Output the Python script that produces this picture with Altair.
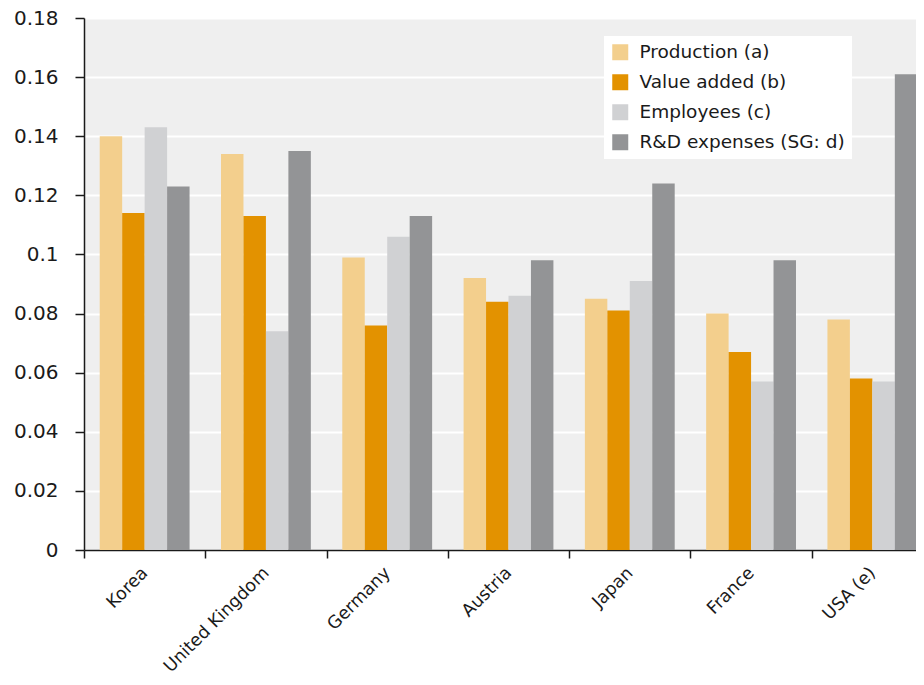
import altair as alt
import pandas as pd

countries = ["Korea", "United Kingdom", "Germany", "Austria", "Japan", "France", "USA (e)"]
series = ["Production (a)", "Value added (b)", "Employees (c)", "R&D expenses (SG: d)"]
colors = ["#f3cf8d", "#e39200", "#d0d1d3", "#939496"]

production = [0.140, 0.134, 0.099, 0.092, 0.085, 0.080, 0.078]
value_added = [0.114, 0.113, 0.076, 0.084, 0.081, 0.067, 0.058]
employees = [0.143, 0.074, 0.106, 0.086, 0.091, 0.057, 0.057]
rnd = [0.123, 0.135, 0.113, 0.098, 0.124, 0.098, 0.161]

y_ticks = [0, 0.02, 0.04, 0.06, 0.08, 0.1, 0.12, 0.14, 0.16, 0.18]

rows = []
for s, vals in zip(series, [production, value_added, employees, rnd]):
    for c, v in zip(countries, vals):
        rows.append({"country": c, "series": s, "value": v})
df = pd.DataFrame(rows)

FONT = "DejaVu Sans"

chart = alt.Chart(df).mark_bar().encode(
    x=alt.X("country:N", sort=countries, title=None,
            scale=alt.Scale(paddingInner=0, paddingOuter=0),
            axis=alt.Axis(tickBand="extent", labelAngle=-45, labelAlign="right",
                          labelBaseline="middle", labelFontSize=17.5, labelFont=FONT,
                          labelColor="#1a1a1a", tickColor="#1a1a1a", domainColor="#1a1a1a",
                          domainWidth=1.5, tickSize=8, tickWidth=1.5, labelPadding=12,
                          grid=False)),
    xOffset=alt.XOffset("series:N", sort=series,
                        scale=alt.Scale(paddingInner=0, paddingOuter=0.7)),
    y=alt.Y("value:Q", title=None,
            scale=alt.Scale(domain=[0, 0.18], nice=False),
            axis=alt.Axis(values=y_ticks, format="~g", labelFontSize=20, labelFont=FONT,
                          labelColor="#1a1a1a", tickColor="#1a1a1a", domainColor="#1a1a1a",
                          domainWidth=1.5, tickSize=9, tickWidth=1.5, labelPadding=17,
                          grid=True, gridColor="#ffffff", gridWidth=2)),
    color=alt.Color("series:N", sort=series,
                    scale=alt.Scale(domain=series, range=colors),
                    legend=alt.Legend(title=None, orient="none", legendX=520, legendY=18,
                                      fillColor="#ffffff", padding=7, symbolType="square",
                                      symbolSize=256, symbolStrokeWidth=0, labelFontSize=18.5,
                                      labelFont=FONT, labelColor="#1a1a1a", labelOffset=10,
                                      rowPadding=11, labelLimit=400)),
).properties(
    width=849, height=532,
    autosize=alt.AutoSizeParams(type="none"),
    padding={"left": 76, "top": 10, "right": -17, "bottom": 127},
).configure_view(fill="#efefef", stroke=None)

chart.save("out.html", embed_options={"renderer": "svg", "actions": False})
